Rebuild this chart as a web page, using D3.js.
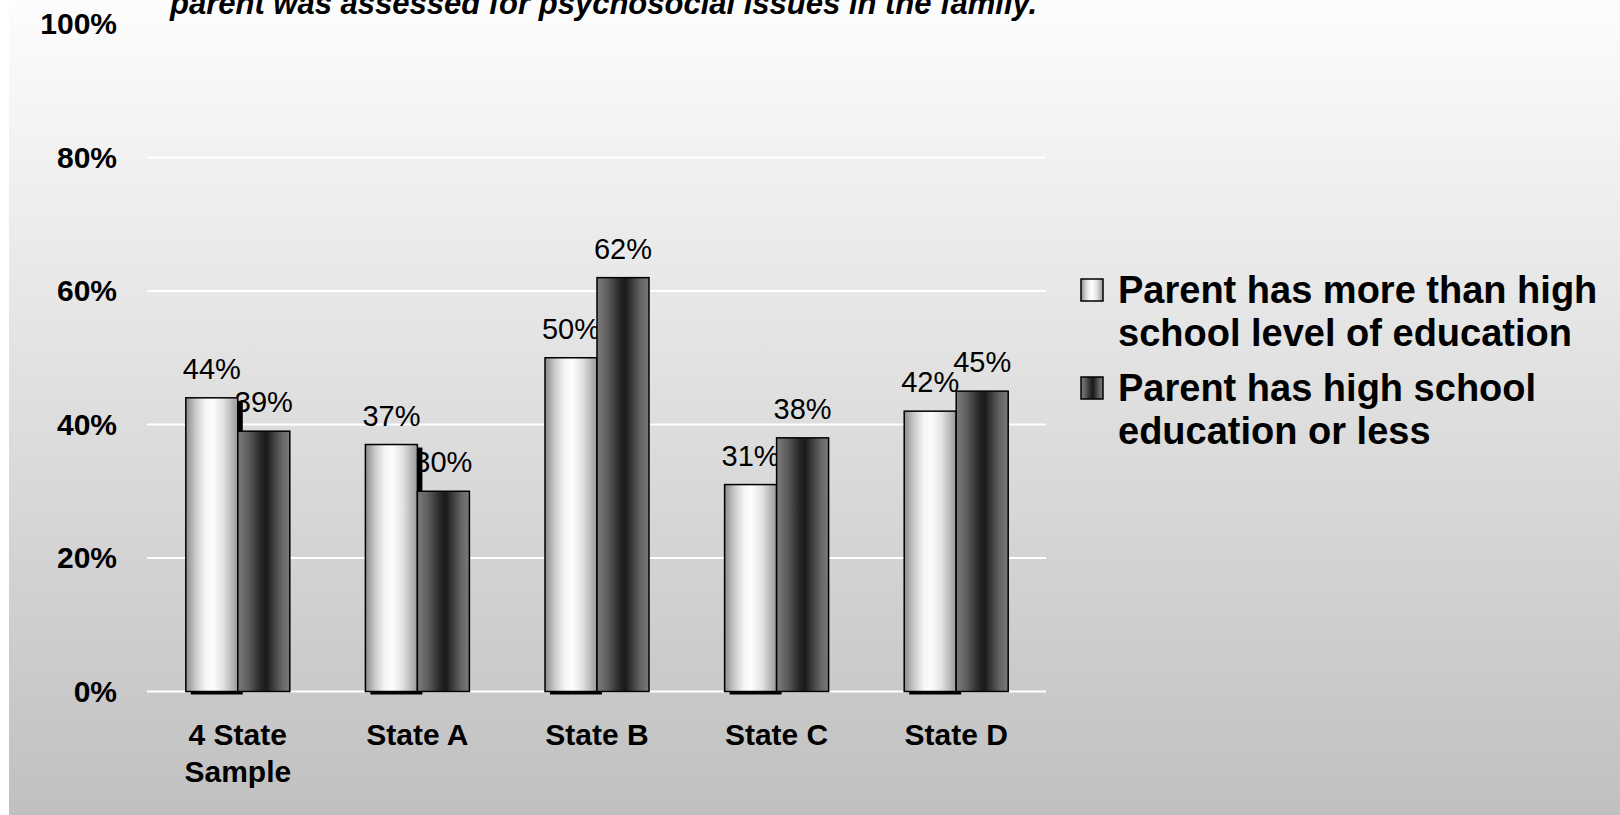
<!DOCTYPE html>
<html>
<head>
<meta charset="utf-8">
<script src="https://cdn.jsdelivr.net/npm/d3@7/dist/d3.min.js"></script>
<style>
  html, body { margin: 0; padding: 0; background: #ffffff; }
  svg { display: block; }
  text { font-family: "Liberation Sans", Arial, sans-serif; fill: #000; }
</style>
</head>
<body>
<svg id="chart" width="1620" height="815"></svg>
<script>
// Chart data
const categories = [["4 State", "Sample"], ["State A"], ["State B"], ["State C"], ["State D"]];
const seriesNames = [
  ["Parent has more than high", "school level of education"],
  ["Parent has high school", "education or less"]
];
const moreThanHS = [0.44, 0.37, 0.50, 0.31, 0.42];
const hsOrLess   = [0.39, 0.30, 0.62, 0.38, 0.45];
const yTicks = [0, 0.2, 0.4, 0.6, 0.8, 1.0];
const titleText = "parent was assessed for psychosocial issues in the family.";

const W = 1620, H = 815;
const svg = d3.select("#chart");
const defs = svg.append("defs");

// Background: vertical light-to-grey gradient
const bg = defs.append("linearGradient").attr("id", "bgGrad")
  .attr("x1", 0).attr("y1", 0).attr("x2", 0).attr("y2", 1);
bg.append("stop").attr("offset", "0%").attr("stop-color", "#fdfdfd");
bg.append("stop").attr("offset", "100%").attr("stop-color", "#c0c0c0");

// Cylinder-like horizontal shading for the two series
function hGrad(id, stops) {
  const g = defs.append("linearGradient").attr("id", id)
    .attr("x1", 0).attr("y1", 0).attr("x2", 1).attr("y2", 0);
  stops.forEach(([o, c]) => g.append("stop").attr("offset", o).attr("stop-color", c));
}
hGrad("lightGrad", [[0, "#8a8a8a"], [0.18, "#c8c8c8"], [0.38, "#f6f6f6"], [0.52, "#fdfdfd"], [0.72, "#e2e2e2"], [1, "#999999"]]);
hGrad("darkGrad", [[0, "#7c7c7c"], [0.2, "#5e5e5e"], [0.45, "#252525"], [0.55, "#1a1a1a"], [0.68, "#3c3c3c"], [0.85, "#666666"], [1, "#7a7a7a"]]);
const fills = ["url(#lightGrad)", "url(#darkGrad)"];

svg.append("rect").attr("x", 9).attr("y", 0).attr("width", W - 9).attr("height", H)
  .attr("fill", "url(#bgGrad)");

// Scales
const gridLeft = 147, gridRight = 1046;
const x0 = d3.scaleBand().domain(d3.range(categories.length)).range([148, 1046])
  .paddingInner(0.421).paddingOuter(0.2105);
const x1 = d3.scaleBand().domain([0, 1]).range([0, x0.bandwidth()]);
const y = d3.scaleLinear().domain([0, 1]).range([691.5, 24]);

// Gridlines
svg.append("g").selectAll("line").data(yTicks.filter(t => t < 1)).join("line")
  .attr("x1", gridLeft).attr("x2", gridRight)
  .attr("y1", d => y(d)).attr("y2", d => y(d))
  .attr("stroke", "#ffffff").attr("stroke-width", 2);

// Y axis tick labels
const yAxis = d3.axisLeft(y).tickValues(yTicks).tickFormat(d3.format(".0%")).tickSize(0).tickPadding(0);
const yG = svg.append("g").attr("transform", "translate(117,0)").call(yAxis);
yG.select(".domain").remove();
yG.selectAll("text")
  .style("font-family", '"Liberation Sans", Arial, sans-serif')
  .style("font-size", "30px").style("font-weight", "bold").attr("fill", "#000");

// X axis category labels
const xg = svg.append("g");
categories.forEach((lines, i) => {
  const t = xg.append("text").attr("text-anchor", "middle")
    .attr("font-size", 30).attr("font-weight", "bold");
  lines.forEach((ln, k) => {
    t.append("tspan").attr("x", x0(i) + x0.bandwidth() / 2).attr("y", 745 + k * 37).text(ln);
  });
});

const series = [moreThanHS, hsOrLess];

// Value labels
series.forEach((vals, s) => {
  svg.append("g").selectAll("text").data(vals).join("text")
    .attr("x", (d, i) => x0(i) + x1(s) + x1.bandwidth() / 2)
    .attr("y", d => y(d) - 19)
    .attr("text-anchor", "middle").attr("font-size", 29)
    .text(d => Math.round(d * 100) + "%");
});

// Drop shadow behind the light bars
svg.append("g").selectAll("rect").data(moreThanHS).join("rect")
  .attr("x", (d, i) => x0(i) + x1(0) + 5)
  .attr("y", d => y(d) + 3)
  .attr("width", x1.bandwidth())
  .attr("height", d => y(0) - y(d))
  .attr("fill", "#000");

// Bars
series.forEach((vals, s) => {
  svg.append("g").selectAll("rect").data(vals).join("rect")
    .attr("x", (d, i) => x0(i) + x1(s))
    .attr("y", d => y(d))
    .attr("width", x1.bandwidth())
    .attr("height", d => y(0) - y(d))
    .attr("fill", fills[s])
    .attr("stroke", "#000").attr("stroke-width", 1.5);
});

// Legend
const legend = svg.append("g");
const legendTop = [279, 377];
seriesNames.forEach((lines, s) => {
  legend.append("rect").attr("x", 1081).attr("y", legendTop[s])
    .attr("width", 22).attr("height", 22)
    .attr("fill", fills[s]).attr("stroke", "#000").attr("stroke-width", 1.5);
  const t = legend.append("text").attr("font-size", 38).attr("font-weight", "bold");
  lines.forEach((ln, k) => {
    t.append("tspan").attr("x", 1118).attr("y", legendTop[s] + 24 + k * 43).text(ln);
  });
});

// Title (runs off the top edge)
svg.append("text").attr("x", 170).attr("y", 14)
  .attr("font-size", 31).attr("font-weight", "bold").attr("font-style", "italic")
  .text(titleText);
</script>
</body>
</html>
